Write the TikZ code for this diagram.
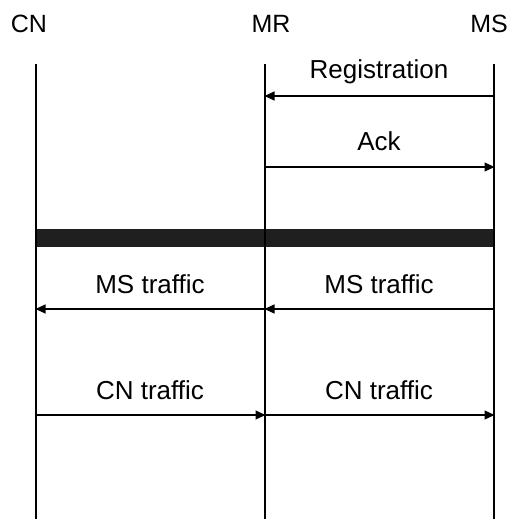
\documentclass[tikz,border=0pt]{standalone}
\usepackage{fontspec}
\setmainfont{Liberation Sans}
\usetikzlibrary{arrows.meta}
\begin{document}
\begin{tikzpicture}[x=1pt,y=-1pt,
  actor/.style={font=\fontsize{25}{30}\selectfont, inner sep=0pt},
  msglabel/.style={font=\fontsize{26}{30}\selectfont, inner sep=0pt},
  lifeline/.style={line width=1.2pt},
  msg/.style={line width=1.2pt, -{Triangle[length=10pt,width=9pt]}, shorten >=-0.5pt},
  barfill/.style={fill=black!88, draw=none}]
  \useasboundingbox (0,0) rectangle (508,519);

  % participants
  \node[actor] (cn) at (29,24) {CN};
  \node[actor] (mr) at (271,24) {MR};
  \node[actor] (ms) at (489,24) {MS};

  % lifeline ends
  \coordinate (cnT) at (36,64);   \coordinate (cnB) at (36,519);
  \coordinate (mrT) at (265,64);  \coordinate (mrB) at (265,519);
  \coordinate (msT) at (494,64);  \coordinate (msB) at (494,519);

  % message anchor points on the lifelines
  \coordinate (ms1) at (494,96);  \coordinate (mr1) at (265,96);
  \coordinate (mr2) at (265,167); \coordinate (ms2) at (494,167);
  \coordinate (ms3) at (494,309); \coordinate (mr3) at (265,309); \coordinate (cn3) at (36,309);
  \coordinate (cn4) at (36,415);  \coordinate (mr4) at (265,415); \coordinate (ms4) at (494,415);

  % data path bar across all lifelines
  \coordinate (barL) at (36,229);
  \coordinate (barR) at (494,247);
  \fill[barfill] (barL) rectangle (barR);

  \draw[lifeline] (cnT) -- (cnB);
  \draw[lifeline] (mrT) -- (mrB);
  \draw[lifeline] (msT) -- (msB);

  % signalling
  \node[msglabel] (reg) at (379,72) {Registration};
  \draw[msg] (ms1) -- (mr1);
  \node[msglabel] (ack) at (379,141) {Ack};
  \draw[msg] (mr2) -- (ms2);

  % traffic
  \node[msglabel] (mst1) at (150,284) {MS traffic};
  \node[msglabel] (mst2) at (379,284) {MS traffic};
  \draw[msg] (ms3) -- (mr3);
  \draw[msg] (mr3) -- (cn3);

  \node[msglabel] (cnt1) at (150,390) {CN traffic};
  \node[msglabel] (cnt2) at (379,390) {CN traffic};
  \draw[msg] (cn4) -- (mr4);
  \draw[msg] (mr4) -- (ms4);
\end{tikzpicture}
\end{document}
